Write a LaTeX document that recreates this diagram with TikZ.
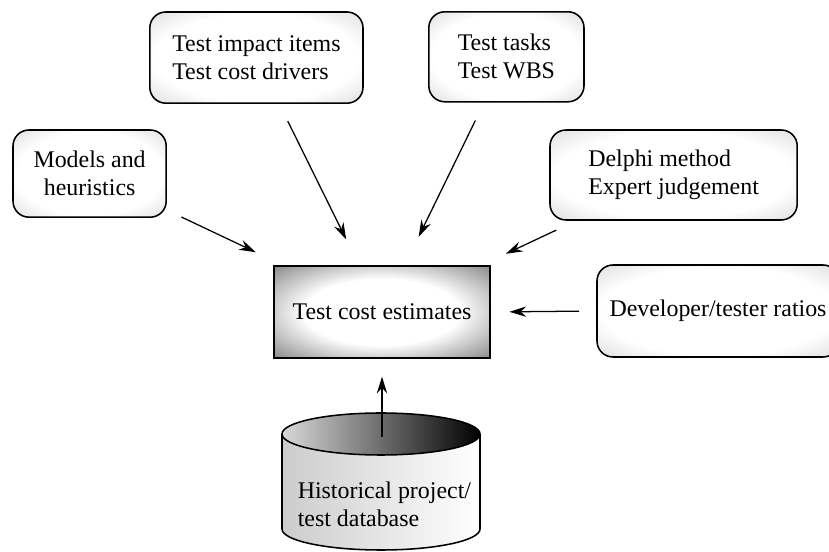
\documentclass[tikz,border=0pt]{standalone}
\usepackage{fontspec}
\setmainfont{Liberation Serif}
\usetikzlibrary{arrows.meta}
\colorlet{softmid}{black!12}
\colorlet{softedge}{black!28}
\colorlet{darkmid}{black!45}
\colorlet{darkedge}{black!80}
\pgfdeclareradialshading[softmid,softedge]{softglow}{\pgfpoint{0bp}{0bp}}{color(0bp)=(white); color(24bp)=(white); color(35bp)=(softmid); color(50bp)=(softedge)}
\pgfdeclareradialshading[darkmid,darkedge]{darkglow}{\pgfpoint{0bp}{0bp}}{color(0bp)=(white); color(18bp)=(white); color(35bp)=(darkmid); color(50bp)=(darkedge)}
\begin{document}
\begin{tikzpicture}[
	font=\fontsize{17}{19.9}\selectfont,
	source/.style={draw, line width=1.1pt, rounded corners=0.4cm, shade, shading=softglow, align=left},
	estimate/.style={draw, line width=2.1pt, shade, shading=darkglow, minimum width=5.4cm, minimum height=2.3cm},
	feed/.style={-{Stealth[length=0.42cm, width=0.26cm, inset=0.14cm]}, line width=0.9pt}
	]
	\useasboundingbox (0, 0) rectangle (20.725, 13.8);

	% sources
	\node [source, minimum width=5.33cm, minimum height=2.28cm] (impact) at (6.41, 12.36) {Test impact items\\Test cost drivers};
	\node [source, minimum width=3.88cm, minimum height=2.25cm] (tasks) at (12.66, 12.38) {Test tasks\\Test WBS};
	\node [source, minimum width=3.83cm, minimum height=2.18cm, align=center] (models) at (2.24, 9.46) {Models and\\heuristics};
	\node [source, minimum width=6.18cm, minimum height=2.25cm] (delphi) at (16.84, 9.425) {Delphi method\\Expert judgement};
	\node [source, minimum width=6.05cm, minimum height=2.3cm] (ratios) at (17.95, 6.025) {Developer/tester ratios};

	% estimate
	\node [estimate] (est) at (9.55, 6.0) {Test cost estimates};

	% database
	\shade [left color=gray!40, right color=white, line width=1.1pt] (7.05, 2.95) -- (7.05, 0.575) arc [start angle=180, end angle=360, x radius=2.475, y radius=0.525] -- (12.0, 2.95) -- cycle;
	\draw [line width=1.1pt] (7.05, 2.95) -- (7.05, 0.575) arc [start angle=180, end angle=360, x radius=2.475, y radius=0.525] -- (12.0, 2.95);
	\shade [left color=gray!30, right color=black] (9.525, 2.95) ellipse [x radius=2.475, y radius=0.525];
	\draw [line width=1.1pt] (9.525, 2.95) ellipse [x radius=2.475, y radius=0.525];
	\coordinate (dbtop) at (9.55, 2.875);
	\node [align=left] (db) at (9.61, 1.2) {Historical project/\\test database};

	% arrows
	\draw [feed, shorten <=0.4cm, shorten >=0.72cm] (models) -- (est);
	\draw [feed, shorten <=0.48cm, shorten >=0.7cm] (impact) -- (est);
	\draw [feed, shorten <=0.5cm, shorten >=0.77cm] (tasks) -- (est);
	\draw [feed, shorten <=0.55cm, shorten >=0.63cm] (delphi) -- (est);
	\draw [feed, shorten <=0.43cm, shorten >=0.45cm] (ratios.west) -- (est.east);
	\draw [feed, shorten >=0.43cm] (dbtop) -- (est.south);
\end{tikzpicture}
\end{document}
